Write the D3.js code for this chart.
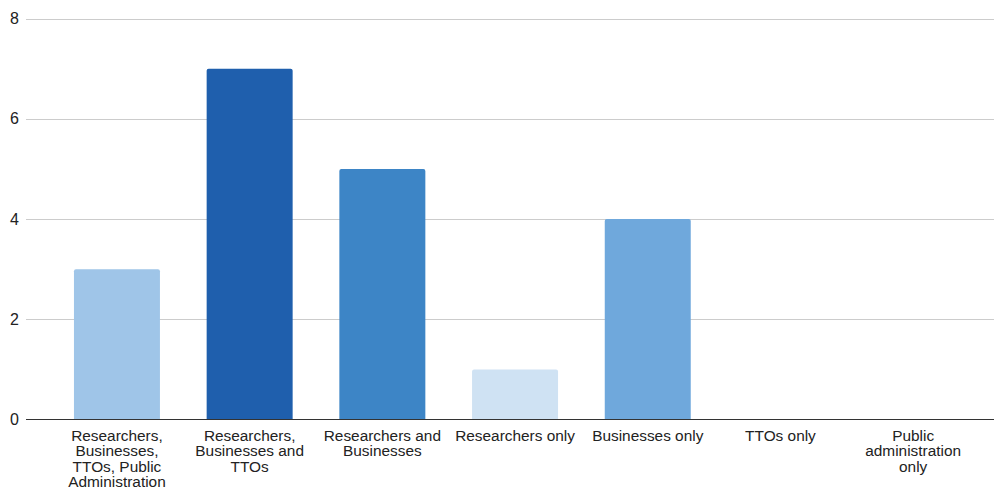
<!DOCTYPE html>
<html>
<head>
<meta charset="utf-8">
<script src="https://cdn.jsdelivr.net/npm/d3@7"></script>
<style>
    body { margin: 0; background: #fff; }
    svg { display: block; font-family: "Liberation Sans", Arial, sans-serif; }
</style>
</head>
<body>
<div id="chart"></div>
<script>
const categories = [
    'Researchers, Businesses, TTOs, Public Administration',
    'Researchers, Businesses and TTOs',
    'Researchers and Businesses',
    'Researchers only',
    'Businesses only',
    'TTOs only',
    'Public administration only'
];
// labels wrapped like the original
const categoryLines = [
    ['Researchers,', 'Businesses,', 'TTOs, Public', 'Administration'],
    ['Researchers,', 'Businesses and', 'TTOs'],
    ['Researchers and', 'Businesses'],
    ['Researchers only'],
    ['Businesses only'],
    ['TTOs only'],
    ['Public', 'administration', 'only']
];
const values = [3, 7, 5, 1, 4, 0, 0];
const barColors = ['#9fc5e8', '#1f5fad', '#3d85c6', '#cfe2f3', '#6fa8dc', '#6fa8dc', '#6fa8dc'];
const yTicks = [0, 2, 4, 6, 8];

const width = 994, height = 489;
const plotLeft = 26, plotRight = 994;
const y0 = 419.5, yTop = 18.5;

const svg = d3.select('#chart').append('svg')
    .attr('width', width)
    .attr('height', height);

const x = d3.scaleBand()
    .domain(categories)
    .range([50.6, 979.5])
    .paddingInner(0.352)
    .paddingOuter(0.176);

const y = d3.scaleLinear()
    .domain([0, 8])
    .range([y0, yTop]);

// gridlines
svg.append('g')
    .selectAll('line')
    .data(yTicks.filter(d => d !== 0))
    .join('line')
    .attr('x1', plotLeft)
    .attr('x2', plotRight)
    .attr('y1', d => Math.round(y(d)) + 0.5)
    .attr('y2', d => Math.round(y(d)) + 0.5)
    .attr('stroke', '#cccccc')
    .attr('stroke-width', 1);

// y labels
svg.append('g')
    .selectAll('text')
    .data(yTicks)
    .join('text')
    .attr('x', 19)
    .attr('y', d => y(d) + 5.5)
    .attr('text-anchor', 'end')
    .attr('font-size', 16)
    .attr('fill', '#222')
    .text(d => d);

// bars with slightly rounded tops
const r = 2;
svg.append('g')
    .selectAll('path')
    .data(values.map((v, i) => ({ v, c: categories[i], color: barColors[i] })).filter(d => d.v > 0))
    .join('path')
    .attr('fill', d => d.color)
    .attr('d', d => {
        const x0 = x(d.c), w = x.bandwidth();
        const top = y(d.v), bot = y(0);
        return `M${x0},${bot}V${top + r}Q${x0},${top} ${x0 + r},${top}H${x0 + w - r}Q${x0 + w},${top} ${x0 + w},${top + r}V${bot}Z`;
    });

// baseline
svg.append('line')
    .attr('x1', plotLeft)
    .attr('x2', plotRight)
    .attr('y1', 419.5)
    .attr('y2', 419.5)
    .attr('stroke', '#333')
    .attr('stroke-width', 1);

// x labels
const xAxis = svg.append('g')
    .selectAll('text')
    .data(categories)
    .join('text')
    .attr('text-anchor', 'middle')
    .attr('font-size', 15.4)
    .attr('fill', '#222')
    .attr('transform', d => `translate(${x(d) + x.bandwidth() / 2},440.5)`);

xAxis.selectAll('tspan')
    .data((d, i) => categoryLines[i])
    .join('tspan')
    .attr('x', 0)
    .attr('y', (d, i) => i * 15.5)
    .text(d => d);
</script>
</body>
</html>
